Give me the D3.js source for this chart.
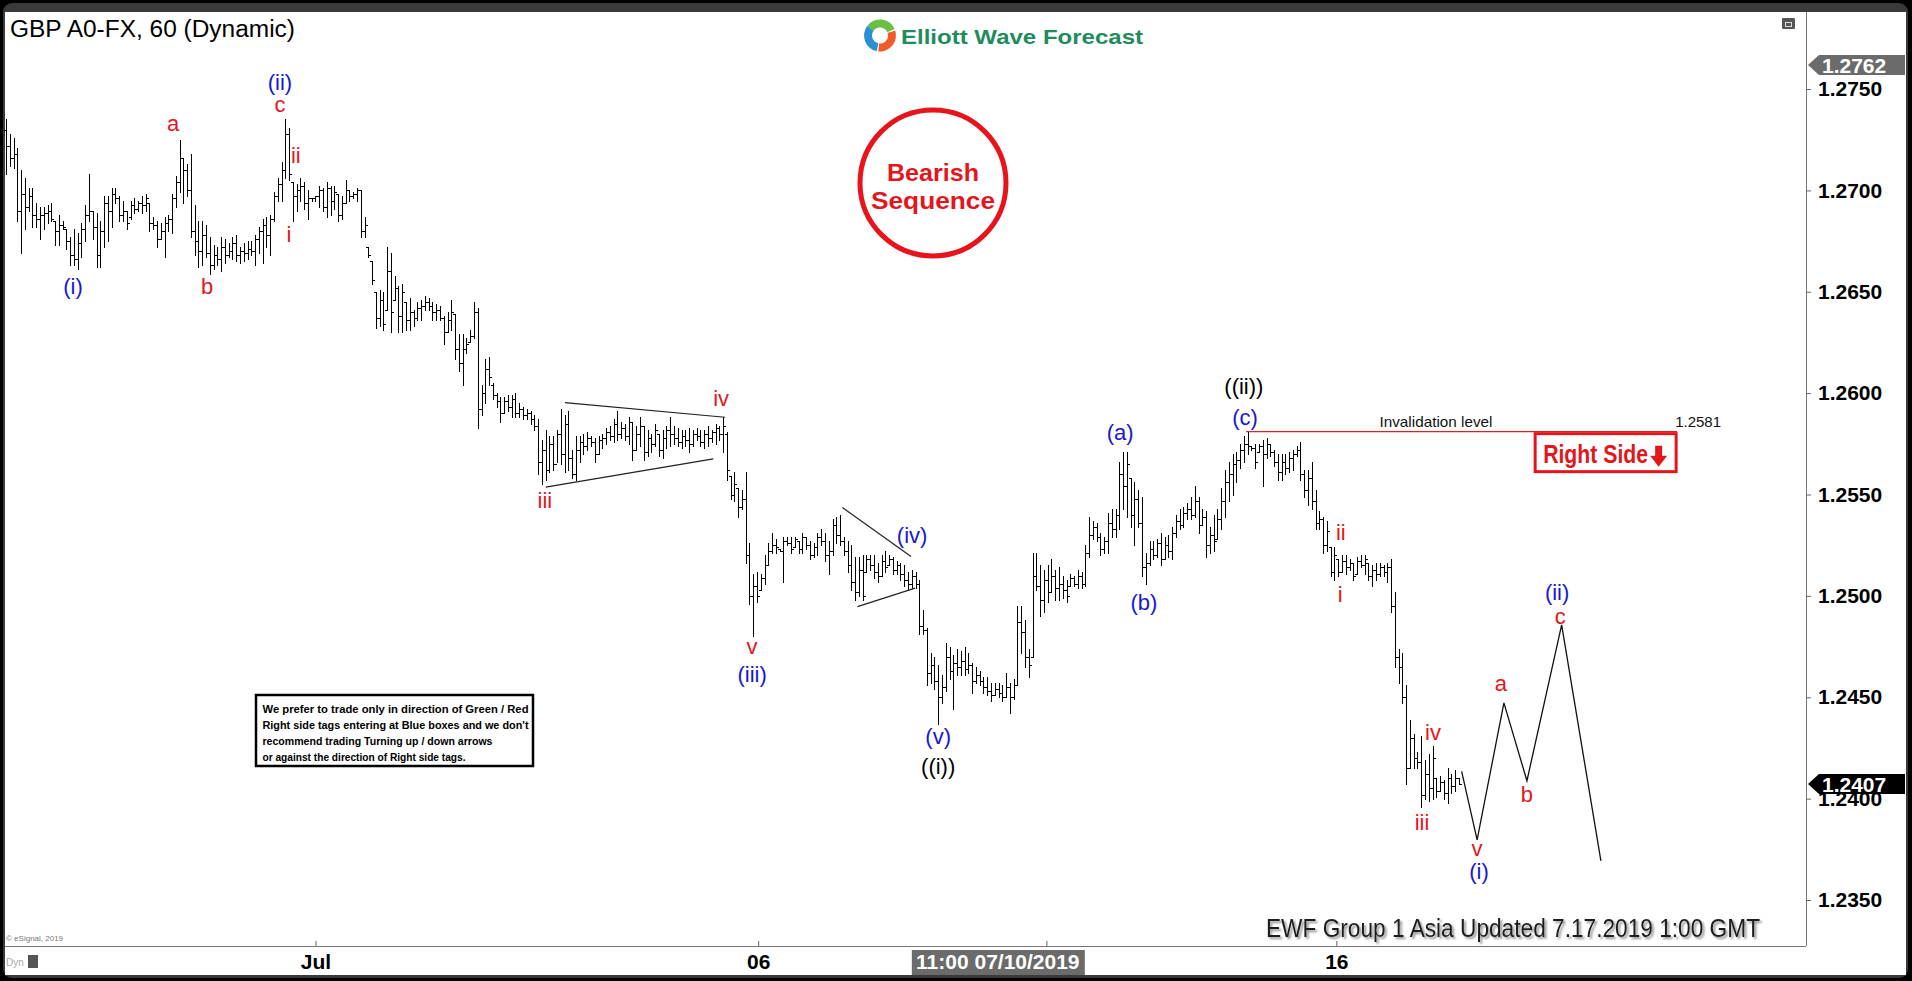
<!DOCTYPE html>
<html><head><meta charset="utf-8">
<script src="https://cdn.jsdelivr.net/npm/d3@7/dist/d3.min.js"></script>
<style>
html,body{margin:0;padding:0;background:#000;overflow:hidden;}
svg{display:block;}
</style></head><body>
<svg id="chart" width="1912" height="981"></svg>
<script>
// ---------- DATA (hourly OHLC bars) ----------
const barHigh = [
1.2735,1.2728,1.2726,1.2721,1.2710,1.2706,1.2701,1.2701,1.2694,1.2692,
1.2692,1.2693,1.2694,1.2685,1.2688,1.2685,1.2681,1.2677,1.2681,1.2679,
1.2684,1.2693,1.2708,1.2690,1.2689,1.2685,1.2697,1.2697,1.2701,1.2701,
1.2697,1.2695,1.2690,1.2695,1.2696,1.2695,1.2697,1.2698,1.2694,1.2687,
1.2685,1.2684,1.2687,1.2688,1.2698,1.2707,1.2725,1.2716,1.2713,1.2718,
1.2693,1.2685,1.2685,1.2683,1.2677,1.2673,1.2672,1.2677,1.2676,1.2674,
1.2677,1.2678,1.2672,1.2674,1.2675,1.2675,1.2678,1.2682,1.2686,1.2687,
1.2688,1.2699,1.2706,1.2714,1.2735,1.2731,1.2704,1.2703,1.2706,1.2704,
1.2700,1.2696,1.2697,1.2702,1.2701,1.2704,1.2702,1.2702,1.2698,1.2697,
1.2705,1.2700,1.2699,1.2701,1.2700,1.2687,1.2672,1.2665,1.2650,1.2651,
1.2650,1.2672,1.2669,1.2658,1.2653,1.2654,1.2645,1.2647,1.2641,1.2645,
1.2646,1.2648,1.2647,1.2645,1.2644,1.2643,1.2638,1.2640,1.2646,1.2639,
1.2629,1.2629,1.2627,1.2631,1.2645,1.2642,1.2604,1.2617,1.2618,
1.2605,1.2600,1.2598,1.2598,1.2599,1.2599,1.2600,1.2595,1.2593,1.2592,
1.2591,1.2589,1.2587,1.2577,1.2582,1.2579,1.2579,1.2582,1.2592,1.2589,
1.2591,1.2572,1.2579,1.2579,1.2580,1.2581,1.2579,1.2578,1.2579,1.2580,
1.2583,1.2584,1.2587,1.2591,1.2586,1.2585,1.2588,1.2586,1.2584,1.2588,
1.2584,1.2582,1.2580,1.2585,1.2580,1.2582,1.2584,1.2588,1.2584,1.2583,
1.2582,1.2582,1.2583,1.2582,1.2583,1.2582,1.2582,1.2584,1.2582,1.2585,
1.2584,1.2588,1.2581,1.2559,1.2561,1.2553,1.2552,1.2561,1.2526,1.2511,
1.2512,1.2511,1.2520,1.2526,1.2531,1.2528,1.2523,1.2529,1.2529,1.2529,
1.2529,1.2527,1.2531,1.2529,1.2527,1.2526,1.2531,1.2533,1.2531,1.2527,
1.2538,1.2539,1.2540,1.2529,1.2527,1.2525,1.2519,1.2519,1.2520,1.2520,
1.2520,1.2520,1.2516,1.2520,1.2522,1.2520,1.2519,1.2517,1.2516,1.2515,
1.2512,1.2513,1.2512,1.2508,1.2493,1.2484,1.2472,1.2470,1.2466,1.2461,
1.2477,1.2475,1.2471,1.2474,1.2473,1.2475,1.2472,
1.2467,1.2465,1.2463,1.2460,1.2460,1.2457,1.2457,1.2457,1.2456,1.2462,
1.2457,1.2459,1.2495,1.2495,1.2488,1.2474,1.2521,1.2521,1.2515,1.2513,
1.2515,1.2518,1.2513,1.2514,1.2510,1.2508,1.2511,1.2510,1.2513,1.2512,
1.2525,1.2539,1.2537,1.2536,1.2531,1.2529,1.2541,1.2543,1.2543,1.2566,
1.2571,1.2571,1.2558,1.2556,1.2552,1.2549,1.2521,1.2527,1.2527,1.2528,
1.2531,1.2529,1.2530,1.2534,1.2540,1.2543,1.2544,1.2546,1.2549,1.2554,
1.2549,1.2543,1.2542,1.2534,1.2540,1.2543,1.2553,1.2562,1.2566,1.2570,
1.2571,1.2575,1.2579,1.2581,1.2574,1.2575,1.2575,1.2577,1.2578,1.2575,
1.2572,1.2570,1.2570,1.2570,1.2571,1.2572,1.2574,1.2576,1.2562,1.2562,
1.2566,1.2552,1.2542,1.2539,1.2537,1.2524,1.2524,1.2518,1.2520,1.2520,
1.2518,1.2516,1.2519,1.2520,1.2520,1.2516,1.2515,1.2516,1.2516,1.2515,
1.2516,1.2518,1.2502,1.2474,1.2472,1.2456,1.2439,1.2432,1.2423,1.2431,
1.2419,1.2422,1.2426,1.2410,1.2411,1.2409,1.2415,1.2412,1.2414,1.2410
];
const barLow = [
1.2708,1.2712,1.2711,1.2685,1.2669,1.2681,1.2690,1.2682,1.2682,1.2676,
1.2681,1.2684,1.2685,1.2673,1.2673,1.2681,1.2671,1.2663,1.2663,1.2661,
1.2667,1.2675,1.2685,1.2676,1.2662,1.2662,1.2672,1.2675,1.2682,1.2694,
1.2685,1.2685,1.2681,1.2686,1.2689,1.2690,1.2689,1.2690,1.2680,1.2681,
1.2672,1.2676,1.2667,1.2680,1.2679,1.2692,1.2699,1.2694,1.2697,1.2677,
1.2668,1.2662,1.2663,1.2667,1.2659,1.2661,1.2663,1.2660,1.2664,1.2667,
1.2666,1.2665,1.2664,1.2665,1.2666,1.2668,1.2663,1.2669,1.2664,1.2672,
1.2668,1.2685,1.2695,1.2695,1.2706,1.2705,1.2685,1.2690,1.2695,1.2691,
1.2686,1.2695,1.2695,1.2692,1.2690,1.2687,1.2688,1.2691,1.2685,1.2686,
1.2694,1.2695,1.2696,1.2695,1.2677,1.2677,1.2667,1.2654,1.2632,1.2633,
1.2631,1.2641,1.2630,1.2646,1.2630,1.2630,1.2631,1.2631,1.2633,1.2636,
1.2636,1.2641,1.2641,1.2636,1.2636,1.2636,1.2624,1.2630,1.2631,1.2617,
1.2611,1.2604,1.2620,1.2625,1.2627,1.2583,1.2589,1.2595,1.2604,
1.2597,1.2593,1.2586,1.2590,1.2591,1.2588,1.2588,1.2588,1.2587,1.2587,
1.2585,1.2582,1.2560,1.2555,1.2557,1.2561,1.2562,1.2566,1.2565,1.2561,
1.2562,1.2558,1.2557,1.2566,1.2570,1.2572,1.2574,1.2566,1.2570,1.2573,
1.2575,1.2577,1.2576,1.2577,1.2578,1.2577,1.2575,1.2567,1.2572,1.2574,
1.2567,1.2569,1.2571,1.2574,1.2569,1.2568,1.2573,1.2574,1.2575,1.2574,
1.2573,1.2574,1.2571,1.2574,1.2577,1.2574,1.2573,1.2574,1.2576,1.2575,
1.2577,1.2571,1.2557,1.2548,1.2547,1.2539,1.2543,1.2516,1.2496,1.2480,
1.2497,1.2503,1.2506,1.2515,1.2521,1.2521,1.2522,1.2507,1.2525,1.2521,
1.2524,1.2521,1.2521,1.2523,1.2518,1.2519,1.2520,1.2525,1.2517,1.2511,
1.2520,1.2526,1.2525,1.2520,1.2512,1.2503,1.2498,1.2500,1.2498,1.2512,
1.2513,1.2509,1.2507,1.2510,1.2512,1.2515,1.2511,1.2511,1.2508,1.2505,
1.2503,1.2504,1.2504,1.2481,1.2481,1.2456,1.2457,1.2454,1.2437,1.2447,
1.2453,1.2459,1.2444,1.2461,1.2461,1.2461,1.2462,
1.2452,1.2457,1.2456,1.2452,1.2451,1.2448,1.2451,1.2450,1.2448,1.2450,
1.2442,1.2449,1.2456,1.2472,1.2465,1.2460,1.2470,1.2503,1.2490,1.2492,
1.2497,1.2502,1.2498,1.2498,1.2499,1.2497,1.2505,1.2505,1.2504,1.2504,
1.2505,1.2519,1.2528,1.2527,1.2520,1.2521,1.2521,1.2529,1.2529,1.2533,
1.2543,1.2539,1.2534,1.2525,1.2534,1.2510,1.2506,1.2515,1.2518,1.2519,
1.2515,1.2518,1.2519,1.2518,1.2529,1.2533,1.2534,1.2538,1.2538,1.2539,
1.2531,1.2535,1.2519,1.2521,1.2522,1.2528,1.2533,1.2539,1.2547,1.2550,
1.2556,1.2563,1.2566,1.2570,1.2572,1.2563,1.2571,1.2554,1.2568,1.2569,
1.2564,1.2557,1.2557,1.2560,1.2561,1.2562,1.2569,1.2557,1.2549,1.2545,
1.2543,1.2533,1.2533,1.2521,1.2522,1.2510,1.2508,1.2510,1.2512,1.2511,
1.2513,1.2508,1.2511,1.2514,1.2511,1.2508,1.2505,1.2508,1.2510,1.2510,
1.2507,1.2492,1.2465,1.2457,1.2447,1.2407,1.2415,1.2415,1.2415,1.2396,
1.2400,1.2399,1.2400,1.2401,1.2404,1.2400,1.2398,1.2403,1.2404,1.2407
];
const barOpen = [
1.2730,1.2722,1.2716,1.2718,1.2690,1.2698,1.2692,1.2697,1.2688,1.2686,
1.2688,1.2689,1.2690,1.2685,1.2680,1.2683,1.2681,1.2675,1.2668,1.2666,
1.2674,1.2681,1.2688,1.2690,1.2682,1.2668,1.2680,1.2694,1.2690,1.2698,
1.2696,1.2688,1.2690,1.2687,1.2693,1.2691,1.2694,1.2693,1.2694,1.2684,
1.2683,1.2676,1.2680,1.2684,1.2686,1.2696,1.2704,1.2716,1.2710,1.2700,
1.2680,1.2675,1.2670,1.2678,1.2669,1.2663,1.2668,1.2666,1.2672,1.2668,
1.2670,1.2674,1.2668,1.2670,1.2669,1.2671,1.2670,1.2676,1.2680,1.2683,
1.2678,1.2686,1.2697,1.2703,1.2710,1.2728,1.2704,1.2697,1.2700,1.2702,
1.2694,1.2696,1.2696,1.2697,1.2700,1.2692,1.2701,1.2695,1.2698,1.2688,
1.2694,1.2700,1.2697,1.2698,1.2700,1.2680,1.2672,1.2665,1.2650,1.2637,
1.2646,1.2641,1.2660,1.2646,1.2652,1.2638,1.2645,1.2636,1.2640,1.2637,
1.2642,1.2643,1.2645,1.2643,1.2640,1.2641,1.2637,1.2630,1.2636,1.2639,
1.2622,1.2615,1.2622,1.2625,1.2628,1.2640,1.2592,1.2600,1.2612,
1.2604,1.2599,1.2596,1.2590,1.2596,1.2593,1.2597,1.2590,1.2592,1.2589,
1.2590,1.2587,1.2584,1.2566,1.2572,1.2562,1.2575,1.2565,1.2580,1.2570,
1.2585,1.2568,1.2560,1.2572,1.2576,1.2574,1.2578,1.2576,1.2570,1.2577,
1.2578,1.2581,1.2579,1.2585,1.2580,1.2583,1.2579,1.2586,1.2572,1.2580,
1.2584,1.2571,1.2578,1.2575,1.2580,1.2572,1.2578,1.2582,1.2580,1.2578,
1.2576,1.2579,1.2577,1.2575,1.2580,1.2579,1.2576,1.2580,1.2578,1.2581,
1.2583,1.2580,1.2580,1.2559,1.2550,1.2553,1.2544,1.2548,1.2520,1.2500,
1.2505,1.2503,1.2509,1.2515,1.2522,1.2525,1.2523,1.2522,1.2527,1.2526,
1.2524,1.2527,1.2523,1.2529,1.2525,1.2520,1.2524,1.2529,1.2527,1.2520,
1.2522,1.2535,1.2530,1.2527,1.2522,1.2515,1.2507,1.2502,1.2513,1.2512,
1.2518,1.2515,1.2512,1.2510,1.2517,1.2515,1.2518,1.2513,1.2515,1.2511,
1.2508,1.2506,1.2510,1.2506,1.2485,1.2483,1.2462,1.2466,1.2458,1.2450,
1.2455,1.2470,1.2463,1.2467,1.2465,1.2468,1.2464,
1.2466,1.2458,1.2461,1.2458,1.2455,1.2453,1.2451,1.2454,1.2452,1.2450,
1.2455,1.2450,1.2456,1.2487,1.2482,1.2470,1.2470,1.2510,1.2505,1.2498,
1.2508,1.2502,1.2510,1.2504,1.2506,1.2503,1.2505,1.2509,1.2506,1.2510,
1.2506,1.2521,1.2530,1.2534,1.2529,1.2523,1.2527,1.2536,1.2533,1.2540,
1.2560,1.2554,1.2558,1.2540,1.2548,1.2536,1.2514,1.2516,1.2523,1.2520,
1.2526,1.2518,1.2525,1.2522,1.2531,1.2537,1.2535,1.2541,1.2543,1.2540,
1.2547,1.2535,1.2539,1.2525,1.2530,1.2528,1.2538,1.2547,1.2556,1.2560,
1.2565,1.2567,1.2572,1.2575,1.2574,1.2573,1.2571,1.2574,1.2570,1.2575,
1.2571,1.2566,1.2561,1.2566,1.2563,1.2568,1.2570,1.2572,1.2560,1.2552,
1.2558,1.2547,1.2536,1.2538,1.2525,1.2524,1.2512,1.2518,1.2512,1.2517,
1.2514,1.2516,1.2511,1.2517,1.2515,1.2516,1.2510,1.2513,1.2511,1.2514,
1.2512,1.2514,1.2495,1.2470,1.2465,1.2450,1.2415,1.2430,1.2420,1.2418,
1.2402,1.2412,1.2405,1.2410,1.2404,1.2408,1.2403,1.2410,1.2406,1.2410
];
const barClose = [
1.2722,1.2716,1.2718,1.2690,1.2698,1.2692,1.2697,1.2688,1.2686,1.2688,
1.2689,1.2690,1.2686,1.2680,1.2683,1.2682,1.2675,1.2668,1.2666,1.2674,
1.2681,1.2688,1.2690,1.2682,1.2668,1.2680,1.2694,1.2690,1.2698,1.2696,
1.2688,1.2690,1.2684,1.2693,1.2691,1.2694,1.2693,1.2696,1.2684,1.2683,
1.2676,1.2680,1.2684,1.2686,1.2696,1.2704,1.2716,1.2710,1.2700,1.2680,
1.2675,1.2670,1.2678,1.2669,1.2663,1.2668,1.2666,1.2672,1.2668,1.2670,
1.2674,1.2668,1.2670,1.2669,1.2671,1.2670,1.2676,1.2680,1.2683,1.2678,
1.2686,1.2697,1.2703,1.2710,1.2728,1.2708,1.2697,1.2700,1.2702,1.2694,
1.2696,1.2696,1.2697,1.2700,1.2692,1.2701,1.2695,1.2699,1.2688,1.2694,
1.2700,1.2697,1.2698,1.2700,1.2680,1.2683,1.2668,1.2656,1.2637,1.2646,
1.2634,1.2660,1.2640,1.2652,1.2638,1.2650,1.2636,1.2640,1.2637,1.2642,
1.2643,1.2645,1.2643,1.2640,1.2641,1.2637,1.2630,1.2636,1.2640,1.2622,
1.2615,1.2622,1.2624,1.2628,1.2640,1.2592,1.2600,1.2612,1.2608,
1.2599,1.2596,1.2590,1.2596,1.2593,1.2597,1.2590,1.2592,1.2589,1.2590,
1.2587,1.2584,1.2566,1.2572,1.2562,1.2575,1.2565,1.2580,1.2570,1.2585,
1.2568,1.2560,1.2572,1.2576,1.2574,1.2578,1.2576,1.2570,1.2577,1.2578,
1.2581,1.2579,1.2585,1.2580,1.2583,1.2579,1.2586,1.2572,1.2580,1.2584,
1.2571,1.2578,1.2575,1.2582,1.2572,1.2578,1.2582,1.2580,1.2578,1.2576,
1.2579,1.2577,1.2575,1.2580,1.2579,1.2576,1.2580,1.2578,1.2581,1.2583,
1.2580,1.2584,1.2562,1.2550,1.2555,1.2544,1.2548,1.2520,1.2500,1.2505,
1.2500,1.2509,1.2515,1.2522,1.2525,1.2524,1.2522,1.2527,1.2526,1.2523,
1.2528,1.2523,1.2529,1.2525,1.2520,1.2524,1.2529,1.2527,1.2520,1.2522,
1.2535,1.2530,1.2527,1.2522,1.2515,1.2507,1.2502,1.2513,1.2500,1.2518,
1.2515,1.2512,1.2510,1.2517,1.2514,1.2518,1.2513,1.2515,1.2511,1.2508,
1.2506,1.2510,1.2506,1.2485,1.2483,1.2462,1.2466,1.2458,1.2450,1.2455,
1.2470,1.2463,1.2467,1.2465,1.2468,1.2464,1.2466,
1.2458,1.2461,1.2458,1.2455,1.2453,1.2451,1.2454,1.2452,1.2450,1.2455,
1.2450,1.2456,1.2487,1.2482,1.2470,1.2466,1.2510,1.2505,1.2498,1.2508,
1.2502,1.2510,1.2504,1.2506,1.2503,1.2500,1.2509,1.2506,1.2510,1.2506,
1.2521,1.2530,1.2534,1.2529,1.2523,1.2527,1.2536,1.2533,1.2540,1.2560,
1.2554,1.2565,1.2540,1.2548,1.2536,1.2514,1.2516,1.2523,1.2520,1.2526,
1.2518,1.2525,1.2522,1.2531,1.2537,1.2535,1.2541,1.2543,1.2540,1.2547,
1.2535,1.2539,1.2525,1.2530,1.2527,1.2538,1.2547,1.2556,1.2560,1.2565,
1.2567,1.2572,1.2575,1.2574,1.2573,1.2566,1.2574,1.2570,1.2575,1.2571,
1.2566,1.2561,1.2566,1.2563,1.2568,1.2570,1.2572,1.2560,1.2552,1.2558,
1.2547,1.2536,1.2538,1.2525,1.2532,1.2512,1.2520,1.2512,1.2517,1.2514,
1.2516,1.2510,1.2517,1.2515,1.2518,1.2510,1.2513,1.2511,1.2514,1.2512,
1.2514,1.2495,1.2470,1.2465,1.2450,1.2415,1.2430,1.2420,1.2418,1.2402,
1.2412,1.2405,1.2420,1.2404,1.2408,1.2403,1.2410,1.2406,1.2410,1.2407
];
// price axis ticks
const priceTicks = [1.2350,1.2400,1.2450,1.2500,1.2550,1.2600,1.2650,1.2700,1.2750];
// time axis (bar index of the label, label text)
const timeTickIndex = [82, 199.3, 352.5];
const timeTickLabels = ["Jul", "06", "16"];
const cursorIndex = 262.8;
const cursorLabel = "11:00 07/10/2019";
// price markers on the axis
const markerPrices = [1.2762, 1.2407];
const markerColors = ["#6b6b6b", "#000000"];
// wave labels: text, bar index, price, colour
const waveLabels = [
 ["(i)",17.75,1.26519,"blue"],["(ii)",72.6,1.27530,"blue"],["(iii)",197.7,1.24610,"blue"],
 ["(iv)",240.1,1.25293,"blue"],["(v)",247.0,1.24300,"blue"],["(a)",295.2,1.25799,"blue"],
 ["(b)",301.5,1.24961,"blue"],["(c)",328.3,1.25873,"blue"],["(i)",390.3,1.23634,"blue"],
 ["(ii)",411.0,1.25010,"blue"],
 ["a",44.25,1.27327,"red"],["b",53.3,1.26519,"red"],["c",72.6,1.27421,"red"],
 ["ii",76.8,1.27170,"red"],["i",75.0,1.26780,"red"],["iii",142.8,1.25468,"red"],
 ["iv",189.5,1.25971,"red"],["v",197.7,1.24744,"red"],["ii",353.7,1.25306,"red"],
 ["i",353.5,1.25000,"red"],["iv",378.1,1.24320,"red"],["iii",375.2,1.23876,"red"],
 ["v",389.8,1.23748,"red"],["a",396.1,1.24561,"red"],["b",403.0,1.24014,"red"],
 ["c",411.8,1.24896,"red"],
 ["((i))",247.0,1.24152,"black"],["((ii))",328.0,1.26026,"black"]
];
// triangle trend lines [[index, price],[index, price]]
const triangleLines = [
 [[148.1,1.25953],[190.5,1.25881]],
 [[143.0,1.25536],[187.4,1.25676]],
 [[221.6,1.25436],[239.8,1.25194]],
 [[225.6,1.24947],[240.9,1.25038]]
];
// projected path [index, price]
const projection = [[385.7,1.24134],[389.8,1.23797],[396.9,1.24472],[403.0,1.24088],[412.2,1.24857],[422.6,1.23693]];
// invalidation level
const invalidPrice = 1.2581;
const invalidFrom = 328.6, invalidTo = 442.8, invalidLabelIdx = 378.9;
const noteLines = [
 "We prefer to trade only in direction of Green / Red",
 "Right side tags entering at Blue boxes and we don't",
 "recommend trading Turning up / down arrows",
 "or against the direction of Right side tags."
];
const noteWidths = [266, 266, 230, 203];

// ---------- DRAWING ----------
const FONT = "Arial, 'Liberation Sans', Helvetica, sans-serif";
const COL = {blue:"#1717d4", red:"#e3161b", black:"#000"};
const svg = d3.select("#chart");
const x = d3.scaleLinear().domain([0, barHigh.length - 1]).range([6, 1459]);
const y = d3.scaleLinear().domain([1.2350, 1.2750]).range([900, 89]);

const defs = svg.append("defs");
const f = defs.append("filter").attr("id","sh").attr("x","-5%").attr("y","-30%").attr("width","110%").attr("height","160%");
f.append("feDropShadow").attr("dx",2).attr("dy",2).attr("stdDeviation",1.2).attr("flood-color","#808080").attr("flood-opacity",0.9);

// window frame
svg.append("rect").attr("width",1912).attr("height",981).attr("fill","#000");
svg.append("rect").attr("x",3).attr("y",3).attr("width",1905).attr("height",975).attr("rx",9).attr("fill","#3a3a3a");
svg.append("rect").attr("x",5).attr("y",12).attr("width",1901).attr("height",963).attr("fill","#fff");

// borders
svg.append("line").attr("x1",1806.5).attr("x2",1806.5).attr("y1",12).attr("y2",946).attr("stroke","#777");
svg.append("line").attr("x1",5).attr("x2",1806).attr("y1",946.5).attr("y2",946.5).attr("stroke","#777");

// title
svg.append("text").attr("x",10).attr("y",37).attr("font-family",FONT).attr("font-size",23)
  .attr("textLength",285).attr("lengthAdjust","spacingAndGlyphs").attr("fill","#000").text("GBP A0-FX, 60 (Dynamic)");

// logo
const lg = svg.append("g").attr("transform","translate(880,35.5)");
const arc = d3.arc();
[[ -0.95, 1.15, "#6abf45"],[1.25, 3.25, "#f15a29"],[3.35, 5.35, "#2b8fd3"]].forEach(a=>{
  lg.append("path").attr("d", arc({innerRadius:8, outerRadius:16, startAngle:a[0], endAngle:a[1]})).attr("fill",a[2]);
});
svg.append("text").attr("x",901).attr("y",44).attr("font-family",FONT).attr("font-size",21).attr("font-weight","bold")
  .attr("fill","#1f8c5c").attr("textLength",242).attr("lengthAdjust","spacingAndGlyphs").text("Elliott Wave Forecast");

// top-right icon
svg.append("rect").attr("x",1782).attr("y",18).attr("width",13).attr("height",11).attr("rx",1).attr("fill","#555");
svg.append("rect").attr("x",1785.5).attr("y",22.5).attr("width",6).attr("height",4).attr("fill","none").attr("stroke","#ddd");

// Bearish sequence badge
svg.append("circle").attr("cx",933).attr("cy",183).attr("r",73).attr("fill","none").attr("stroke","#e8141b").attr("stroke-width",5);
svg.append("text").attr("x",933).attr("y",181).attr("text-anchor","middle").attr("font-family",FONT).attr("font-size",24)
  .attr("font-weight","bold").attr("fill","#e3161b").attr("textLength",92).attr("lengthAdjust","spacingAndGlyphs").text("Bearish");
svg.append("text").attr("x",933).attr("y",209).attr("text-anchor","middle").attr("font-family",FONT).attr("font-size",24)
  .attr("font-weight","bold").attr("fill","#e3161b").attr("textLength",124).attr("lengthAdjust","spacingAndGlyphs").text("Sequence");

// OHLC bars
const bars = barHigh.map((h,i)=>({i, h, l:barLow[i], o:barOpen[i], c:barClose[i]}));
const bg = svg.append("g").attr("stroke","#000").attr("stroke-width",1).attr("shape-rendering","crispEdges");
const bar = bg.selectAll("g").data(bars).join("g");
const xi = d => Math.round(x(d.i));
bar.append("line").attr("x1",d=>xi(d)+0.5).attr("x2",d=>xi(d)+0.5)
  .attr("y1",d=>Math.round(y(d.h))).attr("y2",d=>Math.max(Math.round(y(d.l))+1, Math.round(y(d.h))+1));
bar.append("line").attr("x1",d=>xi(d)-2).attr("x2",d=>xi(d))
  .attr("y1",d=>Math.round(y(d.o))+0.5).attr("y2",d=>Math.round(y(d.o))+0.5);
bar.append("line").attr("x1",d=>xi(d)+1).attr("x2",d=>xi(d)+3)
  .attr("y1",d=>Math.round(y(d.c))+0.5).attr("y2",d=>Math.round(y(d.c))+0.5);

// triangle lines
const lineGen = d3.line().x(d=>x(d[0])).y(d=>y(d[1]));
svg.append("g").selectAll("path").data(triangleLines).join("path")
  .attr("d", lineGen).attr("fill","none").attr("stroke","#222").attr("stroke-width",1.2);

// projection path
svg.append("path").attr("d", lineGen(projection)).attr("fill","none").attr("stroke","#111").attr("stroke-width",1.3);

// invalidation line
svg.append("line").attr("x1",x(invalidFrom)).attr("x2",x(invalidTo)).attr("y1",y(invalidPrice)).attr("y2",y(invalidPrice))
  .attr("stroke","#e02020").attr("stroke-width",1.3);
svg.append("text").attr("x",x(invalidLabelIdx)).attr("y",y(invalidPrice)-5).attr("text-anchor","middle")
  .attr("font-family",FONT).attr("font-size",15).attr("fill","#111").attr("textLength",113).attr("lengthAdjust","spacingAndGlyphs")
  .text("Invalidation level");
svg.append("text").attr("x",x(invalidTo)-2).attr("y",y(invalidPrice)-5)
  .attr("font-family",FONT).attr("font-size",15).attr("fill","#111").text(d3.format(".4f")(invalidPrice));

// Right Side tag
const rsx = x(invalidTo) - 142, rsy = y(invalidPrice) + 2;
svg.append("rect").attr("x",rsx).attr("y",rsy).attr("width",141).attr("height",38).attr("fill","#fff")
  .attr("stroke","#e8141b").attr("stroke-width",3);
svg.append("text").attr("x",rsx+8).attr("y",rsy+29).attr("font-family",FONT).attr("font-size",25).attr("font-weight","bold")
  .attr("fill","#e3161b").attr("textLength",105).attr("lengthAdjust","spacingAndGlyphs").text("Right Side");
svg.append("path").attr("d",`M${rsx+120},${rsy+12}h7v10h5l-8.5,11l-8.5,-11h5z`).attr("fill","#e3161b");

// wave labels
svg.append("g").selectAll("text").data(waveLabels).join("text")
  .attr("x",d=>x(d[1])).attr("y",d=>y(d[2])).attr("dy","0.3em").attr("text-anchor","middle")
  .attr("font-family",FONT).attr("font-size",22).attr("fill",d=>COL[d[3]]).text(d=>d[0]);

// note box
svg.append("rect").attr("x",256).attr("y",695).attr("width",277).attr("height",71).attr("fill","#fff")
  .attr("stroke","#000").attr("stroke-width",2.5);
svg.append("g").selectAll("text").data(noteLines).join("text")
  .attr("x",262.5).attr("y",(d,i)=>713 + i*16).attr("font-family",FONT).attr("font-size",11.5).attr("font-weight","bold")
  .attr("fill","#000").attr("textLength",(d,i)=>noteWidths[i]).attr("lengthAdjust","spacingAndGlyphs").text(d=>d);

// update stamp
svg.append("text").attr("x",1266).attr("y",937).attr("font-family",FONT).attr("font-size",25).attr("fill","#1a1a1a")
  .attr("textLength",494).attr("lengthAdjust","spacingAndGlyphs").attr("filter","url(#sh)")
  .text("EWF Group 1 Asia Updated 7.17.2019 1:00 GMT");
svg.append("text").attr("x",6).attr("y",941).attr("font-family",FONT).attr("font-size",8).attr("fill","#777").text("© eSignal, 2019");

// price axis
const yAxis = d3.axisRight(y).tickValues(priceTicks).tickFormat(d3.format(".4f")).tickSize(5).tickPadding(7);
const ya = svg.append("g").attr("transform","translate(1806,0)").call(yAxis);
ya.select(".domain").remove();
ya.selectAll("line").attr("stroke","#666");
ya.selectAll("text").attr("font-family",FONT).attr("font-size",21).attr("font-weight","bold").attr("fill","#000");

// price markers
markerPrices.forEach((p,k)=>{
  const yy = Math.round(y(p));
  svg.append("path").attr("d",`M1808,${yy}L1819,${yy-10}H1905V${yy+10}H1819Z`).attr("fill",markerColors[k]);
  svg.append("text").attr("x",1822).attr("y",yy).attr("dy","0.36em").attr("font-family",FONT).attr("font-size",21)
    .attr("font-weight","bold").attr("fill","#fff").text(d3.format(".4f")(p));
});

// time axis
const xAxis = d3.axisBottom(x).tickValues(timeTickIndex).tickFormat((d,i)=>timeTickLabels[i]).tickSize(-5).tickPadding(8);
const xa = svg.append("g").attr("transform","translate(0,946)").call(xAxis);
xa.select(".domain").remove();
xa.selectAll("line").attr("stroke","#666");
xa.selectAll("text").attr("font-family",FONT).attr("font-size",21).attr("font-weight","bold").attr("fill","#000");
// cursor label
const cx0 = x(cursorIndex);
svg.append("line").attr("x1",x(275.8)).attr("x2",x(275.8)).attr("y1",941).attr("y2",946).attr("stroke","#666");
svg.append("rect").attr("x",cx0-86).attr("y",950).attr("width",173).attr("height",25).attr("fill","#6b6b6b");
svg.append("text").attr("x",cx0).attr("y",969).attr("text-anchor","middle").attr("font-family",FONT).attr("font-size",21)
  .attr("font-weight","bold").attr("fill","#fff").text(cursorLabel);

// Dyn corner
svg.append("text").attr("x",6).attr("y",966).attr("font-family",FONT).attr("font-size",10).attr("fill","#aaa").text("Dyn");
svg.append("rect").attr("x",28).attr("y",955).attr("width",10).attr("height",13).attr("fill","#555");
</script>
</body></html>
